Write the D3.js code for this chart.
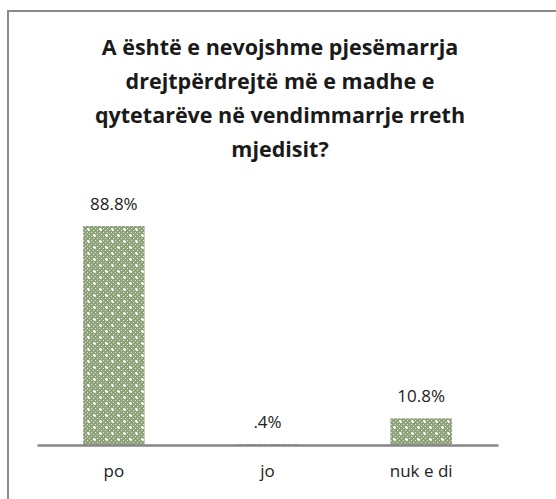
<!DOCTYPE html>
<html>
<head>
<meta charset="utf-8">
<script src="https://cdn.jsdelivr.net/npm/d3@7"></script>
<style>
body { margin: 0; background: #fff; }
</style>
</head>
<body>
<div id="chart"></div>
<script>
// chart data
var categories = ["po", "jo", "nuk e di"];
var values = [88.8, 0.4, 10.8];
var valueLabels = ["88.8%", ".4%", "10.8%"];
var titleLines = [
  "A është e nevojshme pjesëmarrja",
  "drejtpërdrejtë më e madhe e",
  "qytetarëve në vendimmarrje rreth",
  "mjedisit?"
];

var W = 556, H = 499;
var margin = {top: 226, right: 58, bottom: 54, left: 37},
  width = W - margin.left - margin.right,
  height = H - margin.top - margin.bottom;

var svg = d3.select("#chart").append("svg")
  .attr("width", W)
  .attr("height", H)
  .style("font-family", "'Open Sans', 'DejaVu Sans', sans-serif");

// hatch-like fill pattern (green with white dots)
var defs = svg.append("defs");
var pat = defs.append("pattern")
  .attr("id", "dots")
  .attr("patternUnits", "userSpaceOnUse")
  .attr("width", 12).attr("height", 12);
pat.append("rect").attr("width", 12).attr("height", 12).attr("fill", "#8ea37a");
for (var i = 0; i < 12; i += 2) {
  for (var j = 0; j < 12; j += 2) {
    if ((i / 2 + j / 2) % 2 === 0) {
      pat.append("rect").attr("x", i).attr("y", j)
        .attr("width", 1).attr("height", 1).attr("fill", "#dde4d2");
    }
  }
}
pat.append("rect").attr("x", 2).attr("y", 3).attr("width", 3).attr("height", 1).attr("fill", "#fff");
pat.append("rect").attr("x", 3).attr("y", 2).attr("width", 1).attr("height", 3).attr("fill", "#fff");
pat.append("rect").attr("x", 8).attr("y", 9).attr("width", 3).attr("height", 1).attr("fill", "#fff");
pat.append("rect").attr("x", 9).attr("y", 8).attr("width", 1).attr("height", 3).attr("fill", "#fff");

// outer border
svg.append("rect")
  .attr("x", 8).attr("y", 11)
  .attr("width", W + 10).attr("height", H + 10)
  .attr("fill", "none")
  .attr("stroke", "#8a8a8a")
  .attr("stroke-width", 2);

// title
svg.append("text")
  .attr("text-anchor", "middle")
  .attr("font-size", "21.5px")
  .attr("font-weight", "bold")
  .attr("fill", "#1a1a1a")
  .selectAll("tspan")
  .data(titleLines)
  .enter().append("tspan")
  .attr("x", 280)
  .attr("y", function(d, i) { return 55 + i * 34; })
  .text(function(d) { return d; });

var g = svg.append("g")
  .attr("transform", "translate(" + margin.left + "," + margin.top + ")");

var x = d3.scaleBand()
  .domain(categories)
  .range([0, width])
  .paddingInner(0.6)
  .paddingOuter(0.3);

var y = d3.scaleLinear()
  .domain([0, 88.8])
  .range([height, 0]);

g.selectAll(".bar")
  .data(values)
  .enter().append("rect")
  .attr("class", "bar")
  .attr("x", function(d, i) { return x(categories[i]); })
  .attr("width", x.bandwidth())
  .attr("y", function(d) { return y(d); })
  .attr("height", function(d) { return height - y(d); })
  .attr("fill", "url(#dots)");

g.selectAll(".vlabel")
  .data(values)
  .enter().append("text")
  .attr("class", "vlabel")
  .attr("x", function(d, i) { return x(categories[i]) + x.bandwidth() / 2; })
  .attr("y", function(d) { return y(d) - 16; })
  .attr("text-anchor", "middle")
  .attr("font-size", "17px")
  .attr("fill", "#222")
  .text(function(d, i) { return valueLabels[i]; });

// x axis
var xAxis = g.append("g")
  .attr("transform", "translate(0," + height + ")")
  .call(d3.axisBottom(x).tickSize(0).tickPadding(20));
xAxis.select(".domain").attr("stroke", "#868686").attr("stroke-width", 2.5);
xAxis.selectAll("text")
  .attr("font-size", "17px")
  .attr("font-family", "'Open Sans', 'DejaVu Sans', sans-serif")
  .attr("fill", "#222");
</script>
</body>
</html>
